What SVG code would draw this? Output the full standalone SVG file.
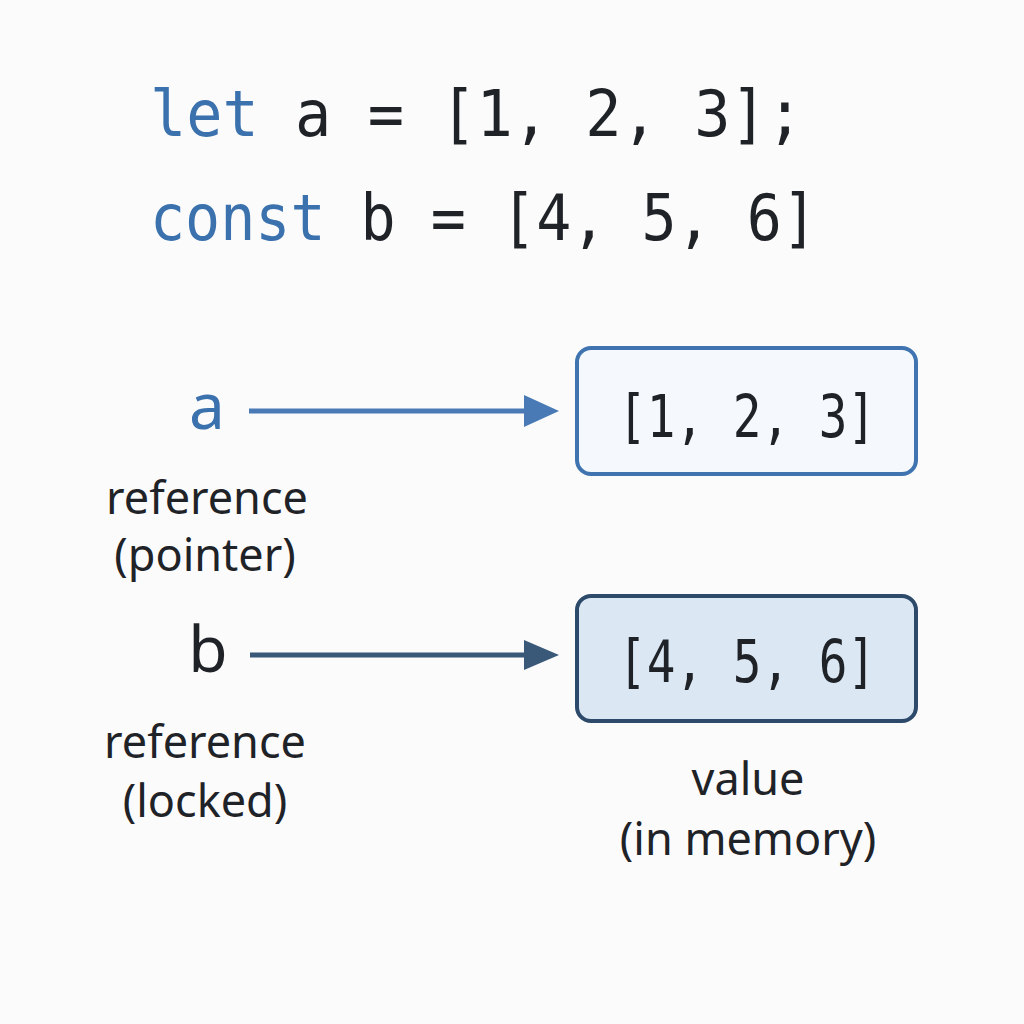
<svg xmlns="http://www.w3.org/2000/svg" width="1024" height="1024" viewBox="0 0 1024 1024">
<defs>
<style>
.code{font-family:"DejaVu Sans Mono","Liberation Mono",monospace;font-size:64px;fill:#1f2328}
.kw{fill:#3b72ae}
.val{font-family:"DejaVu Sans Mono","Liberation Mono",monospace;font-size:58px;fill:#1f2328;text-anchor:middle}
.lbl{font-family:"Noto Sans","Open Sans",sans-serif;font-size:45px;fill:#1f2328;text-anchor:middle}
.var{font-family:"Noto Sans","Open Sans",sans-serif;font-size:64px;text-anchor:middle}
</style>
</defs>
<rect width="1024" height="1024" fill="#fbfbfb"/>
<g id="code">
<text class="code" x="150" y="136" textLength="653" lengthAdjust="spacingAndGlyphs"><tspan class="kw">let</tspan> a = [1, 2, 3];</text>
<text class="code" x="150" y="240" textLength="667" lengthAdjust="spacingAndGlyphs"><tspan class="kw">const</tspan> b = [4, 5, 6]</text>
</g>
<g id="connectors">
<line x1="249" y1="411" x2="528" y2="411" stroke="#4a7ab5" stroke-width="5"/>
<path d="M524,395 L559,411 L524,427 Z" fill="#4a7ab5"/>
<line x1="250" y1="655" x2="528" y2="655" stroke="#3a5878" stroke-width="5"/>
<path d="M524,640 L559,655 L524,670 Z" fill="#3a5878"/>
</g>
<g id="var-a">
<text class="var" x="207" y="429" fill="#3b72ae">a</text>
<text class="lbl" x="207" y="514">reference</text>
<text class="lbl" x="205" y="571">(pointer)</text>
</g>
<g id="var-b">
<text class="var" x="208" y="672" fill="#1f2328">b</text>
<text class="lbl" x="205" y="758">reference</text>
<text class="lbl" x="205" y="817">(locked)</text>
</g>
<g id="value-a">
<rect x="577" y="348" width="339" height="126" rx="14" fill="#f5f9fd" stroke="#3f74b0" stroke-width="4"/>
<text class="val" x="747" y="437" textLength="258" lengthAdjust="spacingAndGlyphs">[1, 2, 3]</text>
</g>
<g id="value-b">
<rect x="577" y="596" width="339" height="125" rx="14" fill="#dbe8f4" stroke="#2e4a6b" stroke-width="4"/>
<text class="val" x="747" y="682" textLength="258" lengthAdjust="spacingAndGlyphs">[4, 5, 6]</text>
</g>
<g id="value-label">
<text class="lbl" x="748" y="795">value</text>
<text class="lbl" x="748" y="855">(in memory)</text>
</g>
</svg>
